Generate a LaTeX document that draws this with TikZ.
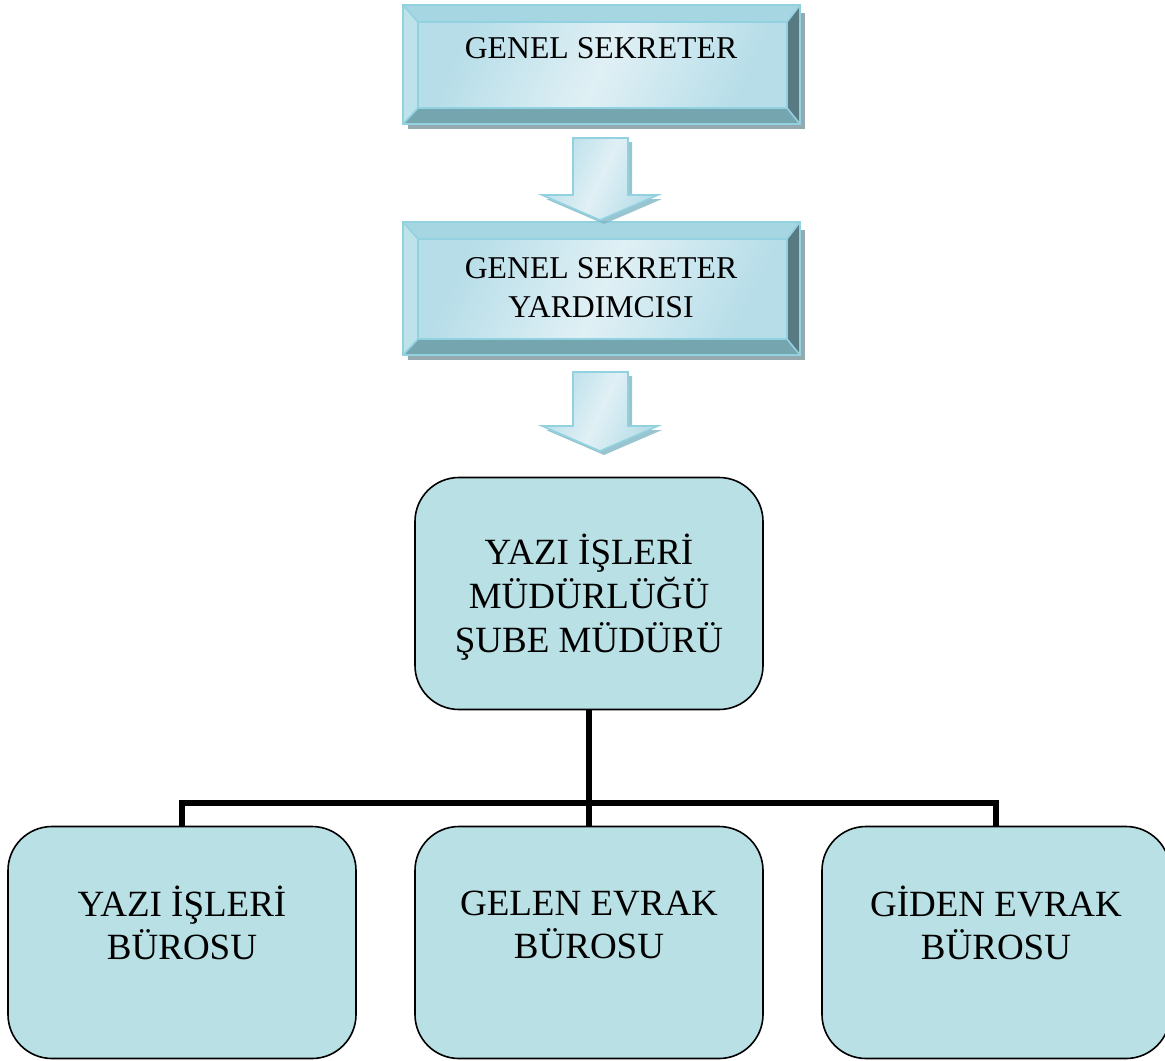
\documentclass[tikz,border=0pt]{standalone}
\usepackage{fontspec}
\setmainfont{Liberation Serif}
\usepackage{tikz}

\definecolor{bevfacel}{RGB}{224,240,245}
\definecolor{bevfaced}{RGB}{182,221,232}
\definecolor{bevtopc}{RGB}{166,214,226}
\definecolor{bevleftc}{RGB}{190,226,234}
\definecolor{bevrightc}{RGB}{88,122,131}
\definecolor{bevbotc}{RGB}{117,166,176}
\definecolor{bevedgec}{RGB}{146,210,224}
\definecolor{bevshadc}{RGB}{148,170,176}
\definecolor{arrshadc}{RGB}{128,182,196}
\definecolor{boxfill}{RGB}{185,224,228}

\tikzset{
  bevface/.style={left color=bevfaced, right color=bevfaced, middle color=bevfacel, shading angle=65},
  bevedge/.style={draw=bevedgec, line width=1.2pt},
  toptext/.style={inner sep=0pt, align=center, font=\fontsize{23.8}{29.25}\selectfont},
  boxtext/.style={inner sep=0pt, align=center, font=\fontsize{27.75}{32}\selectfont},
  roundbox/.style={draw=black, line width=1.2pt, fill=boxfill, rounded corners=33pt, minimum width=261pt, minimum height=174pt, inner sep=0pt},
  conn/.style={draw=black, line width=4pt, line join=miter},
}

% bevelled box: top-left x, y ; bottom-right x, y
\newcommand{\bevelbox}[4]{%
  \fill[bevshadc] (#1+5,#2+8) rectangle (#3+5,#4+5);
  \shade[bevface] (#1+15,#2+17) rectangle (#3-13,#4-16);
  \fill[bevtopc] (#1,#2) -- (#3,#2) -- (#3-13,#2+17) -- (#1+15,#2+17) -- cycle;
  \fill[bevleftc] (#1,#2) -- (#1+15,#2+17) -- (#1+15,#4-16) -- (#1,#4) -- cycle;
  \fill[bevrightc] (#3,#2) -- (#3,#4) -- (#3-13,#4-16) -- (#3-13,#2+17) -- cycle;
  \fill[bevbotc] (#1,#4) -- (#1+15,#4-16) -- (#3-13,#4-16) -- (#3,#4) -- cycle;
  \draw[bevedge] (#1,#2) rectangle (#3,#4);
  \draw[bevedge] (#1+15,#2+17) rectangle (#3-13,#4-16);
  \draw[bevedge] (#1,#2) -- (#1+15,#2+17) (#3,#2) -- (#3-13,#2+17) (#1,#4) -- (#1+15,#4-16) (#3,#4) -- (#3-13,#4-16);
}

% down block arrow: centre x, top y, tip y
\newcommand{\blockarrow}[3]{%
  \fill[arrshadc, opacity=0.8] (#1-23,#2+4) -- (#1+32,#2+4) -- (#1+32,#3-21) -- (#1+62,#3-21) -- (#1+4,#3+4) -- (#1-54,#3-21) -- (#1-23,#3-21) -- cycle;
  \shade[bevface, draw=bevedgec, line width=1.2pt] (#1-27,#2) -- (#1+28,#2) -- (#1+28,#3-25) -- (#1+58,#3-25) -- (#1,#3) -- (#1-58,#3-25) -- (#1-27,#3-25) -- cycle;
}

\begin{document}
\begin{tikzpicture}[x=0.75pt,y=0.75pt,yscale=-1,xscale=1]
        \path[use as bounding box] (0,0) rectangle (1165,1061);
        
        %Shape: Bevel [id:gensek]
        \bevelbox{403}{5}{800}{124}
        %Shape: Bevel [id:gensekyrd]
        \bevelbox{403}{222}{800}{355}
        
        %Shape: Down Arrow
        \blockarrow{600}{138}{220}
        %Shape: Down Arrow
        \blockarrow{600}{372}{451}
        
        % Text Node
        \node[toptext] (gs) at (601,48) {GENEL SEKRETER};
        % Text Node
        \node[toptext] (gsy) at (601,287.5) {GENEL SEKRETER\\YARDIMCISI};
        
        %Shape: Rounded Rect
        \node[roundbox] (ysm) at (589,593.5) {};
        \node[roundbox] (yib) at (182,942.5) {};
        \node[roundbox] (geb) at (589,942.5) {};
        \node[roundbox] (gib) at (996,942.5) {};
        
        % Text Node
        \node[boxtext, font=\fontsize{27.75}{33}\selectfont] (ysmt) at (589,597) {YAZI İŞLERİ\\MÜDÜRLÜĞÜ\\ŞUBE MÜDÜRÜ};
        % Text Node
        \node[boxtext] (yibt) at (182,923) {YAZI İŞLERİ\\BÜROSU};
        % Text Node
        \node[boxtext] (gebt) at (589,925) {GELEN EVRAK\\BÜROSU};
        % Text Node
        \node[boxtext] (gibt) at (996,923) {GİDEN EVRAK\\BÜROSU};
        
        %Straight Lines
        \coordinate (bus) at (589,803);
        \draw[conn] (ysm.south) -- (geb.north);
        \draw[conn] (yib.north) |- (bus) -| (gib.north);
        
\end{tikzpicture}
\end{document}
